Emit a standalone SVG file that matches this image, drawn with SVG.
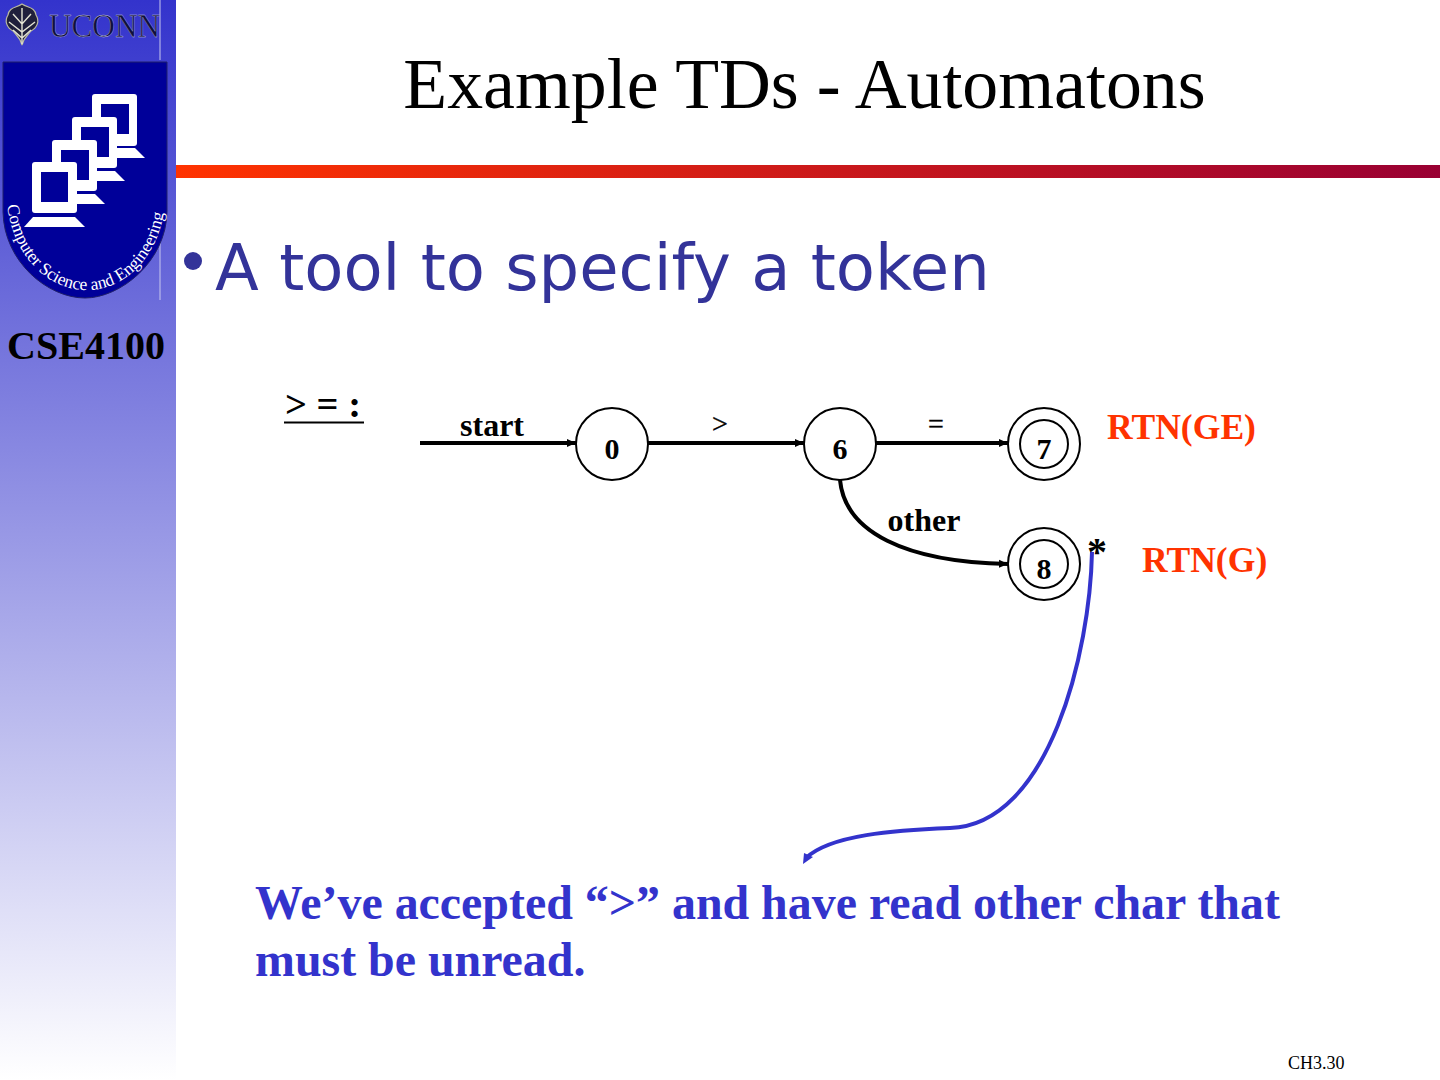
<svg xmlns="http://www.w3.org/2000/svg" width="1440" height="1080" viewBox="0 0 1440 1080">
<style>
.serif{font-family:"Liberation Serif","Times New Roman",serif}
.b{font-weight:bold}
.lbl{font-family:"Liberation Serif",serif;font-weight:bold;font-size:32px;fill:#000;text-anchor:middle}
.sym{font-family:"Liberation Serif",serif;font-size:28px;fill:#000;text-anchor:middle;stroke:#000;stroke-width:.4}
.rtn{font-family:"Liberation Serif",serif;font-weight:bold;font-size:35.6px;fill:#ff3300}
.st{fill:#fff;stroke:#000;stroke-width:2}
.in{fill:none;stroke:#000;stroke-width:2}
.num{font-family:"Liberation Serif",serif;font-weight:bold;font-size:30px;fill:#000;text-anchor:middle}
.edge{fill:none;stroke:#000;stroke-width:4}
.blue{fill:none;stroke:#3333cc;stroke-width:4}
.mon{fill:#fff}
.scr{fill:#000099}
</style>
<defs>
<linearGradient id="side" x1="0" y1="0" x2="0" y2="1"><stop offset="0" stop-color="#3333cc"/><stop offset="1" stop-color="#ffffff"/></linearGradient>
<linearGradient id="bar" x1="0" y1="0" x2="1" y2="0"><stop offset="0" stop-color="#ff3300"/><stop offset="1" stop-color="#990033"/></linearGradient>
<marker id="ah" markerUnits="userSpaceOnUse" markerWidth="10" markerHeight="10" refX="9" refY="5" orient="auto"><path d="M0,1 L9,5 L0,9 Z" fill="#000"/></marker>
<path id="arcText" d="M7,205 C14,262 54,293 92,290 C132,286 162,250 165,200"/>
</defs>
<rect width="1440" height="1080" fill="#fff"/>
<rect id="sidebar" width="176" height="1080" fill="url(#side)"/>
<rect id="rule" x="176" y="165" width="1264" height="13" fill="url(#bar)"/>
<g id="logo">
<path d="M160,0V60M160,210V300" stroke="#c8c8ee" stroke-width="1" fill="none"/>
<path d="M22,4 C16,8 9,7 8,15 C4,21 7,28 13,31 C16,35 20,37 22,45 C24,37 28,35 31,31 C37,28 40,21 36,15 C35,7 28,8 22,4Z" fill="#20203c" stroke="#b9b9a0" stroke-width="1.2"/>
<path d="M22,8V44M13,14L22,24L31,14M9,22L22,32L35,22M13,30L22,38L31,30" stroke="#e4e4d4" stroke-width="1.4" fill="none"/>
<text x="49" y="37" class="serif" font-size="33" fill="#10103c" stroke="#d0d0e4" stroke-width="0.3" textLength="111" lengthAdjust="spacingAndGlyphs">UCONN</text>
<path d="M3,62H167V212C166,262 120,298 85,298C48,298 4,262 3,212Z" fill="#000099" stroke="#20206a" stroke-width="1"/>
<g id="m4"><rect class="mon" x="92" y="94" width="45" height="52" rx="3"/><rect class="scr" x="101" y="104" width="28" height="30"/><path class="mon" d="M117,148H135L145,158H100Z"/></g>
<g id="m3"><rect class="mon" x="72" y="117" width="45" height="51" rx="3"/><rect class="scr" x="81" y="127" width="28" height="30"/><path class="mon" d="M97,171H115L125,181H80Z"/></g>
<g id="m2"><rect class="mon" x="52" y="140" width="45" height="51" rx="3"/><rect class="scr" x="61" y="150" width="28" height="30"/><path class="mon" d="M77,194H95L105,204H60Z"/></g>
<g id="m1"><rect class="mon" x="32" y="162" width="45" height="51" rx="3"/><rect class="scr" x="41" y="172" width="27" height="30"/><path class="mon" d="M33,217H75L85,227H24Z"/></g>
<text class="serif" font-size="17.5" fill="#fff"><textPath href="#arcText" textLength="246" lengthAdjust="spacing">Computer Science and Engineering</textPath></text>
</g>
<text id="course" x="86" y="359" class="serif b" font-size="40" text-anchor="middle" fill="#000">CSE4100</text>
<text id="title" x="804.5" y="108" class="serif" font-size="71.8" text-anchor="middle" fill="#000">Example TDs - Automatons</text>
<circle id="bullet" cx="193" cy="261" r="9" fill="#333399"/>
<text id="bullet-text" x="215" y="290" font-family="'DejaVu Sans',sans-serif" font-size="64" fill="#333399">A tool to specify a token</text>
<g id="token"><text x="285" y="417" class="serif b" font-size="38.5" fill="#000">&gt; = :</text><rect x="284" y="421.500" width="80" height="2" fill="#000"/></g>
<g id="connectors">
<path class="edge" d="M420,443H576" marker-end="url(#ah)"/>
<path class="edge" d="M648,443H804" marker-end="url(#ah)"/>
<path class="edge" d="M876,443H1008" marker-end="url(#ah)"/>
<path class="edge" d="M840,480C845,532 905,562 1008,564" marker-end="url(#ah)"/>
<path class="blue" d="M1092,552C1090,650 1050,825 950,828C895,830 830,835 806,858"/>
<path id="blue-head" d="M803,864L804,853L813,857Z" fill="#3333cc"/>
</g>
<g id="node-0"><circle class="st" cx="612" cy="444" r="36"/><text class="num" x="612" y="459">0</text></g>
<g id="node-6"><circle class="st" cx="840" cy="444" r="36"/><text class="num" x="840" y="459">6</text></g>
<g id="node-7"><circle class="st" cx="1044" cy="444" r="36"/><circle class="in" cx="1044" cy="444" r="24"/><text class="num" x="1044" y="459">7</text></g>
<g id="node-8"><circle class="st" cx="1044" cy="564" r="36"/><circle class="in" cx="1044" cy="564" r="24"/><text class="num" x="1044" y="579">8</text></g>
<g id="labels">
<text class="lbl" x="492" y="436">start</text>
<text class="sym" x="720" y="433">&gt;</text>
<text class="sym" x="936" y="433">=</text>
<text class="lbl" x="924" y="531">other</text>
<text class="rtn" x="1107" y="439">RTN(GE)</text>
<text class="rtn" x="1142" y="572">RTN(G)</text>
<text class="serif b" x="1097" y="565" font-size="40" text-anchor="middle" fill="#000">*</text>
</g>
<g id="note" class="serif b" font-size="47.9" fill="#3333cc">
<text x="255" y="919">We’ve accepted “&gt;” and have read other char that</text>
<text x="255" y="976">must be unread.</text>
</g>
<text id="page" x="1288" y="1069" class="serif" font-size="18" fill="#000">CH3.30</text>
</svg>
